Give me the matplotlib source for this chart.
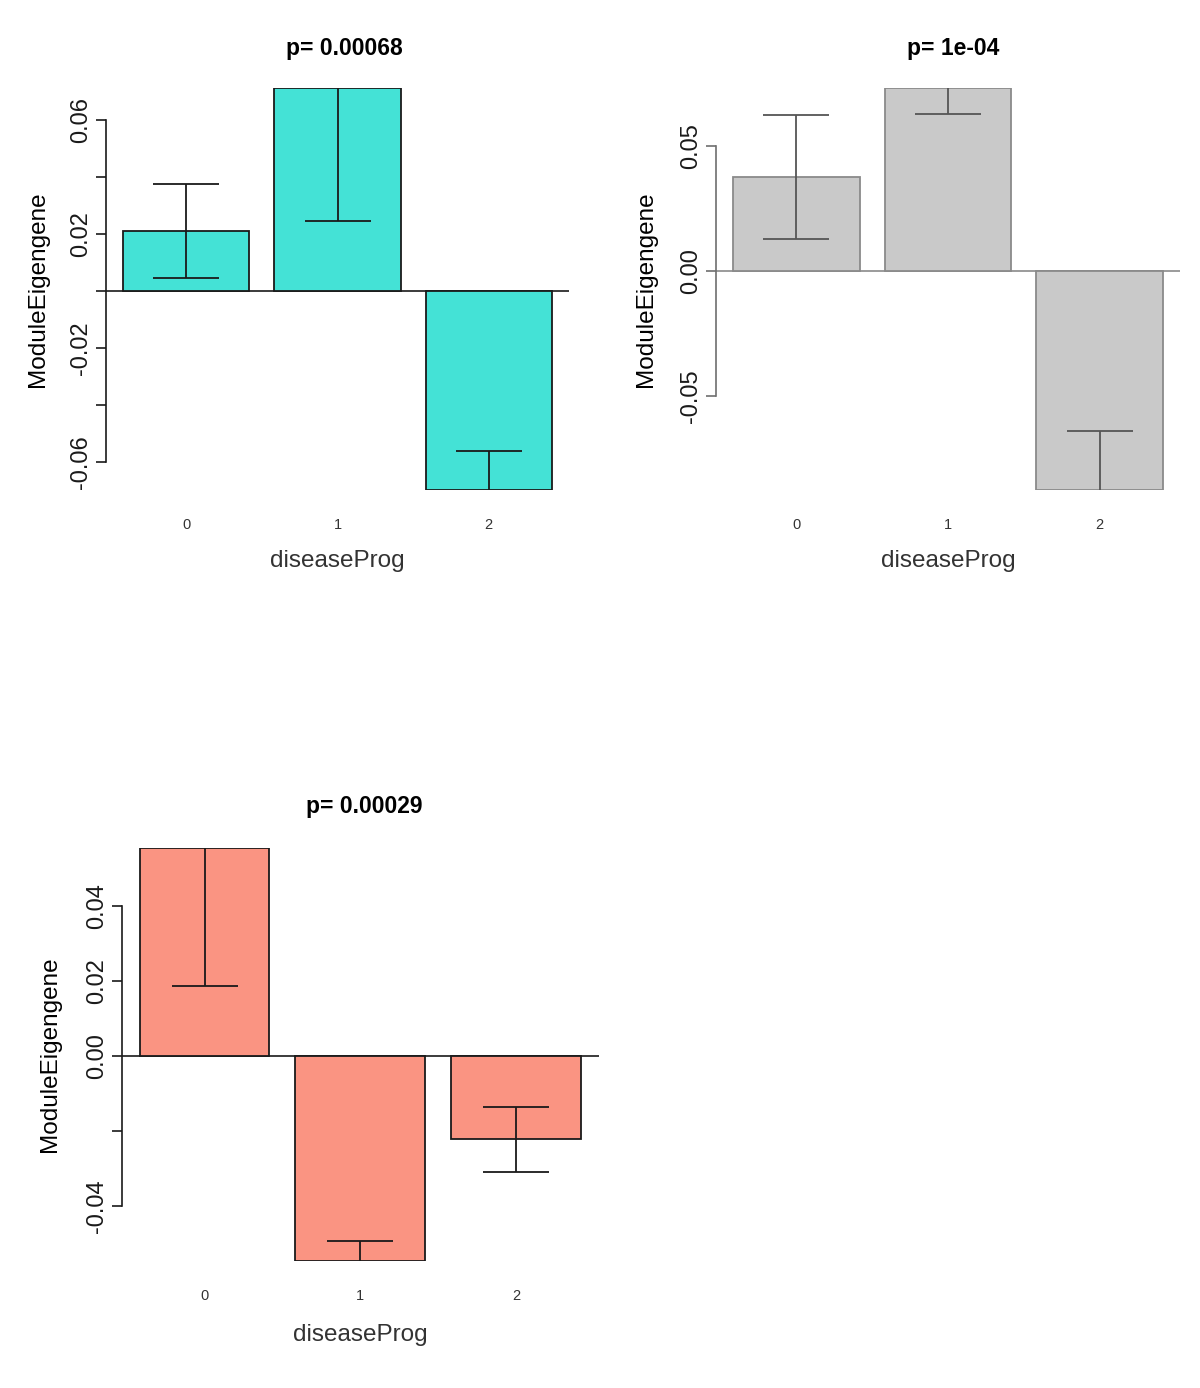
import matplotlib.pyplot as plt
import numpy as np

plt.rcParams['font.family'] = ['Liberation Sans', 'DejaVu Sans']

# group labels (diseaseProg)
groups = ['0', '1', '2']

# module eigengene means and standard errors per module
turq_means = [0.0212, 0.0713, -0.0697]
turq_se = [0.0165, 0.0467, 0.0136]
grey_means = [0.0377, 0.0735, -0.0878]
grey_se = [0.0247, 0.0104, 0.0237]
salmon_means = [0.0554, -0.0547, -0.0222]
salmon_se = [0.0367, 0.0053, 0.0087]

titles = ['p= 0.00068', 'p= 1e-04', 'p= 0.00029']

# y ticks and which of them R managed to label
turq_ticks = [-0.06, -0.04, -0.02, 0.00, 0.02, 0.04, 0.06]
turq_ticklabels = ['-0.06', '', '-0.02', '', '0.02', '', '0.06']
grey_ticks = [-0.05, 0.00, 0.05]
grey_ticklabels = ['-0.05', '0.00', '0.05']
salmon_ticks = [-0.04, -0.02, 0.00, 0.02, 0.04]
salmon_ticklabels = ['-0.04', '', '0.00', '0.02', '0.04']

W, H = 1200, 1388
fig = plt.figure(figsize=(W / 100, H / 100), dpi=100)

panels = [
    # means, se, ticks, labels, fill, bar edge, err colour, axis colour,
    # plot box in px, ylabel x, title y, title x, xlabel y
    (turq_means, turq_se, turq_ticks, turq_ticklabels, '#44E2D6', '#1a1a1a', '#1a1a1a', '#1a1a1a',
     (106, 87.7, 569, 490), 38, 48, 344, 561),
    (grey_means, grey_se, grey_ticks, grey_ticklabels, '#C9C9C9', '#8a8a8a', '#555555', '#6e6e6e',
     (716, 87.7, 1180, 490), 646, 48, 953, 561),
    (salmon_means, salmon_se, salmon_ticks, salmon_ticklabels, '#FA9482', '#1a1a1a', '#1a1a1a', '#1a1a1a',
     (122, 848.3, 598.6, 1261), 50, 807, 364, 1335),
]

for (means, se, ticks, ticklabels, fill, edge, ecol, acol,
     box, ylab_x, title_y, title_x, xlab_y), title in zip(panels, titles):
    x0, y0, x1, y1 = box
    ax = fig.add_axes([x0 / W, 1 - y1 / H, (x1 - x0) / W, (y1 - y0) / H])

    # R barplot layout: width 1, space 0.2
    pos = 0.7 + 1.2 * np.arange(len(groups))
    ax.bar(pos, means, width=1.0, color=fill, edgecolor=edge, linewidth=1.3, zorder=2)
    ax.errorbar(pos, means, yerr=se, fmt='none', ecolor=ecol, elinewidth=1.3,
                capsize=24, capthick=1.3, zorder=3)
    ax.axhline(0, color=edge, linewidth=1.2, zorder=1)

    ax.set_xlim(0.064, 3.736)
    ax.set_ylim(min(means), max(means))

    for s in ['top', 'right', 'bottom']:
        ax.spines[s].set_visible(False)
    ax.spines['left'].set_bounds(ticks[0], ticks[-1])
    ax.spines['left'].set_color(acol)
    ax.spines['left'].set_linewidth(1.2)

    ax.set_yticks(ticks)
    ax.set_yticklabels(ticklabels, rotation=90, va='center', fontsize=17, color='#1a1a1a')
    ax.tick_params(axis='y', length=7.2, width=1.2, color=acol, pad=3)

    ax.set_xticks(pos)
    ax.set_xticklabels(groups, fontsize=10.5, color='#333333')
    ax.tick_params(axis='x', length=0, pad=20)

    ax.patch.set_visible(False)

    cx = (x0 + x1) / 2
    fig.text(title_x / W, 1 - title_y / H, title, ha='center', va='center',
             fontsize=16.5, fontweight='bold')
    fig.text(cx / W, 1 - xlab_y / H, 'diseaseProg', ha='center', va='center',
             fontsize=17.5, color='#333333')
    fig.text(ylab_x / W, 1 - ((y0 + y1) / 2) / H, 'ModuleEigengene', ha='center',
             va='center', rotation=90, fontsize=17.5)

fig.savefig('out.png', dpi=100)
